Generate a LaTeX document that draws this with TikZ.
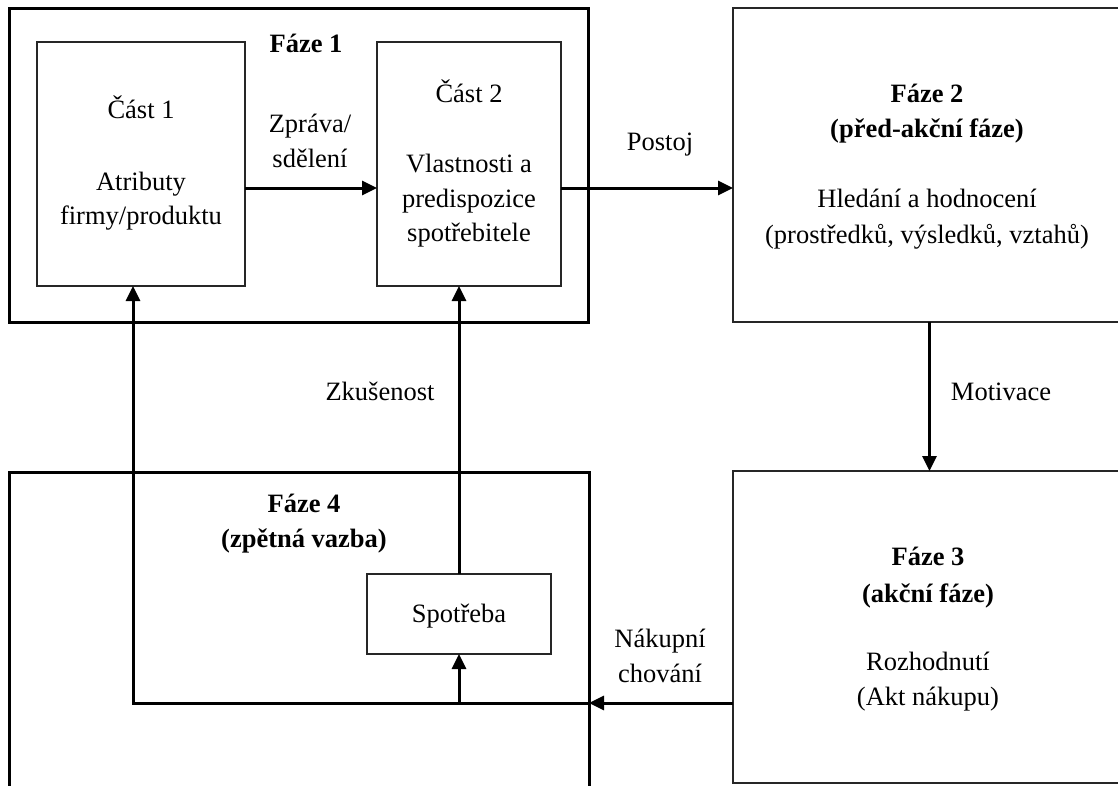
\documentclass[tikz,border=0pt]{standalone}
\usepackage{fontspec}
\setmainfont{Liberation Serif}
\usetikzlibrary{arrows.meta}
\begin{document}
\begin{tikzpicture}[x=1pt,y=-1pt,
  thickbox/.style={draw, line width=3pt, inner sep=0pt, outer sep=0pt},
  thinbox/.style={draw=black!85, line width=1.3pt, inner sep=0pt, outer sep=0pt},
  flow/.style={line width=3pt, -{Triangle[length=15pt,width=14pt]}},
  txt/.style={anchor=base, inner sep=0pt, font=\fontsize{26.5}{36}\selectfont},
  btxt/.style={anchor=base, inner sep=0pt, font=\fontsize{26.5}{36}\selectfont\bfseries},
]
\useasboundingbox (0,0) rectangle (1118,785);
\clip (0,0) rectangle (1118,785);

% phase frames
\node[thickbox, minimum width=579pt, minimum height=314pt] (faze1) at (298.5,165) {};
\node[thickbox, minimum width=580pt, minimum height=340pt] (faze4) at (299,642) {};
\node[thinbox, minimum width=393pt, minimum height=314pt] (faze2) at (929.5,165) {};
\node[thinbox, minimum width=393pt, minimum height=312pt] (faze3) at (929.5,627) {};

% inner boxes
\node[thinbox, minimum width=208pt, minimum height=244pt] (cast1) at (141,164) {};
\node[thinbox, minimum width=184pt, minimum height=244pt] (cast2) at (469,164) {};
\node[thinbox, minimum width=184pt, minimum height=80pt] (spotreba) at (459,614) {};

% helper coordinates
\coordinate (ay) at (0,188);
\coordinate (jl) at (133,703);

% texts
\node[btxt] (t1) at (306,52) {Fáze 1};
\node[txt] (c1a) at (141,118) {Část 1};
\node[txt] (c1b) at (141,190) {Atributy};
\node[txt] (c1c) at (141,224) {firmy/produktu};
\node[txt] (c2a) at (469,102) {Část 2};
\node[txt] (c2b) at (469,172) {Vlastnosti a};
\node[txt] (c2c) at (469,207) {predispozice};
\node[txt] (c2d) at (469,241) {spotřebitele};
\node[txt] (zpa) at (310,132) {Zpráva/};
\node[txt] (zpb) at (310,167) {sdělení};
\node[txt] (post) at (660,150) {Postoj};
\node[btxt] (f2a) at (927,102) {Fáze 2};
\node[btxt] (f2b) at (927,137) {(před-akční fáze)};
\node[txt] (f2c) at (927,207) {Hledání a hodnocení};
\node[txt] (f2d) at (927,243) {(prostředků, výsledků, vztahů)};
\node[txt] (mot) at (1001,400) {Motivace};
\node[txt] (zk) at (380,400) {Zkušenost};
\node[btxt] (f4a) at (304,512) {Fáze 4};
\node[btxt] (f4b) at (304,547) {(zpětná vazba)};
\node[txt] (sp) at (459,622) {Spotřeba};
\node[txt] (nka) at (660,647) {Nákupní};
\node[txt] (nkb) at (660,682) {chování};
\node[btxt] (f3a) at (928,565) {Fáze 3};
\node[btxt] (f3b) at (928,602) {(akční fáze)};
\node[txt] (f3c) at (928,670) {Rozhodnutí};
\node[txt] (f3d) at (928,705) {(Akt nákupu)};

% connectors
\draw[flow] (cast1.east |- ay) -- (cast2.west |- ay);
\draw[flow] (cast2.east |- ay) -- (faze2.west |- ay);
\draw[flow] (faze2.south) -- (faze3.north);
\draw[flow] (faze3.west |- jl) -- (faze4.east |- jl);
\draw[flow] (faze4.east |- jl) -- (jl) -- (jl |- cast1.south);
\draw[flow] (spotreba.south |- jl) -- (spotreba.south);
\draw[flow] (spotreba.north) -- (spotreba.north |- cast2.south);
\end{tikzpicture}
\end{document}
